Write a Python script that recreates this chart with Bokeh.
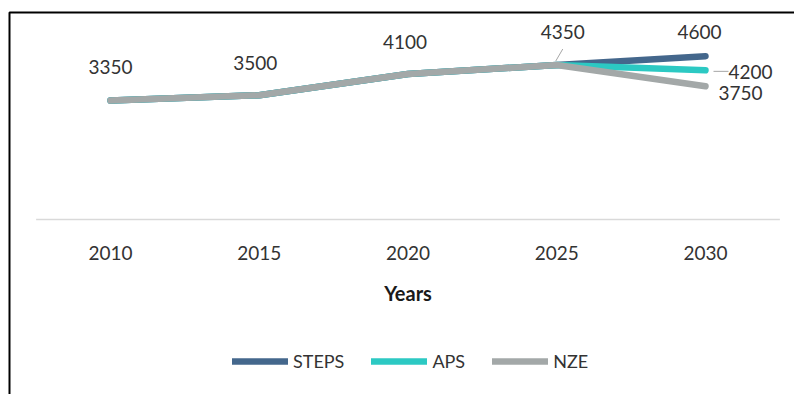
from bokeh.plotting import figure
from bokeh.models import Range1d, Legend, LegendItem, BoxAnnotation, ColumnDataSource
from bokeh.core.properties import value
from bokeh.embed import file_html
from bokeh.resources import INLINE

# ---- data ----
years = [2010, 2015, 2020, 2025, 2030]
tick_labels = ["2010", "2015", "2020", "2025", "2030"]
steps = [3350, 3500, 4100, 4350, 4600]
aps = [3350, 3500, 4100, 4350, 4200]
nze = [3350, 3500, 4100, 4350, 3750]
series_names = ["STEPS", "APS", "NZE"]
x_axis_title = "Years"

# ---- styles / layout ----
colors = ["#44678C", "#2CC9C3", "#A3A8A8"]
FONT = "Lato"
TEXT_COLOR = "#333333"
W, H = 794, 394
PX_FIRST, PX_LAST = 110, 705      # canvas x of first / last year
PY_ZERO, PX_PER_UNIT = 219, 0.03551  # canvas y of value 0, pixels per unit

xpx = (PX_LAST - PX_FIRST) / (years[-1] - years[0])
X0 = years[0] - PX_FIRST / xpx
X1 = X0 + W / xpx
Y1 = PY_ZERO / PX_PER_UNIT
Y0 = -(H - PY_ZERO) / PX_PER_UNIT
ypx = PX_PER_UNIT

p = figure(width=W, height=H, output_backend="svg", toolbar_location=None,
           x_range=Range1d(X0, X1), y_range=Range1d(Y0, Y1),
           x_axis_location=None, y_axis_location=None,
           min_border=0)
p.outline_line_color = None
p.grid.visible = False
p.background_fill_color = "white"
p.border_fill_color = "white"

# category axis baseline
half = (years[1] - years[0]) / 2
p.segment([years[0] - half], [0], [years[-1] + half], [0], line_color="#D9D9D9", line_width=1.5)

# tick labels and axis title
p.text(x=years, y=[0] * len(years), text=tick_labels, y_offset=33,
       text_font=value(FONT), text_font_size="19px", text_color=TEXT_COLOR,
       text_align="center", text_baseline="middle")
p.text(x=[(years[0] + years[-1]) / 2], y=[0], text=[x_axis_title], y_offset=73,
       text_font=value(FONT), text_font_size="20px", text_font_style="bold",
       text_color="#1a1a1a", text_align="center", text_baseline="middle")

renderers = []
for name, vals, c in zip(series_names, [steps, aps, nze], colors):
    r = p.line(years, vals, line_color=c, line_width=6.5, line_cap="round", line_join="round")
    renderers.append(r)

# data labels
lab_x = years[:4] + [years[4]] * 3
lab_y = steps[:4] + [steps[4], aps[4], nze[4]]
lab_t = [str(v) for v in lab_y]
dx = [0, -4, -3, 6, -6, 45, 35]
dy = [-34, -32, -32, -33, -24, 2, 7]
src = ColumnDataSource(dict(x=lab_x, y=lab_y, t=lab_t, dx=dx, dy=dy))
p.text(x="x", y="y", text="t", x_offset="dx", y_offset="dy", source=src,
       text_font=value(FONT), text_font_size="19px", text_color=TEXT_COLOR,
       text_align="center", text_baseline="middle")

# leader lines (pixel offsets from the point, converted to data units)
lead_idx = [3, 5]
lead_off = [(6, -16, -1, -4), (8, 1, 23, 1)]
sx0, sy0, sx1, sy1 = [], [], [], []
for i, (a, b, c2, d) in zip(lead_idx, lead_off):
    sx0.append(lab_x[i] + a / xpx); sy0.append(lab_y[i] - b / ypx)
    sx1.append(lab_x[i] + c2 / xpx); sy1.append(lab_y[i] - d / ypx)
p.segment(sx0, sy0, sx1, sy1, line_color="#A6A6A6", line_width=1)

legend = Legend(items=[LegendItem(label=n, renderers=[r]) for n, r in zip(series_names, renderers)],
                orientation="horizontal", location=(232, 22),
                glyph_width=56, glyph_height=16, label_standoff=5, spacing=27,
                padding=0, margin=0, border_line_color=None, background_fill_alpha=0,
                label_text_font=FONT, label_text_font_size="18px", label_text_color=TEXT_COLOR)
p.add_layout(legend)

# outer box (only its top and left edges fall inside the picture)
box = BoxAnnotation(left=9, right=W + 20, top=12, bottom=H + 20,
                    left_units="canvas", right_units="canvas", top_units="canvas", bottom_units="canvas",
                    fill_alpha=0, line_color="black", line_alpha=1.0, line_width=2)
p.add_layout(box)

open("out.html", "w").write(file_html(p, INLINE))
